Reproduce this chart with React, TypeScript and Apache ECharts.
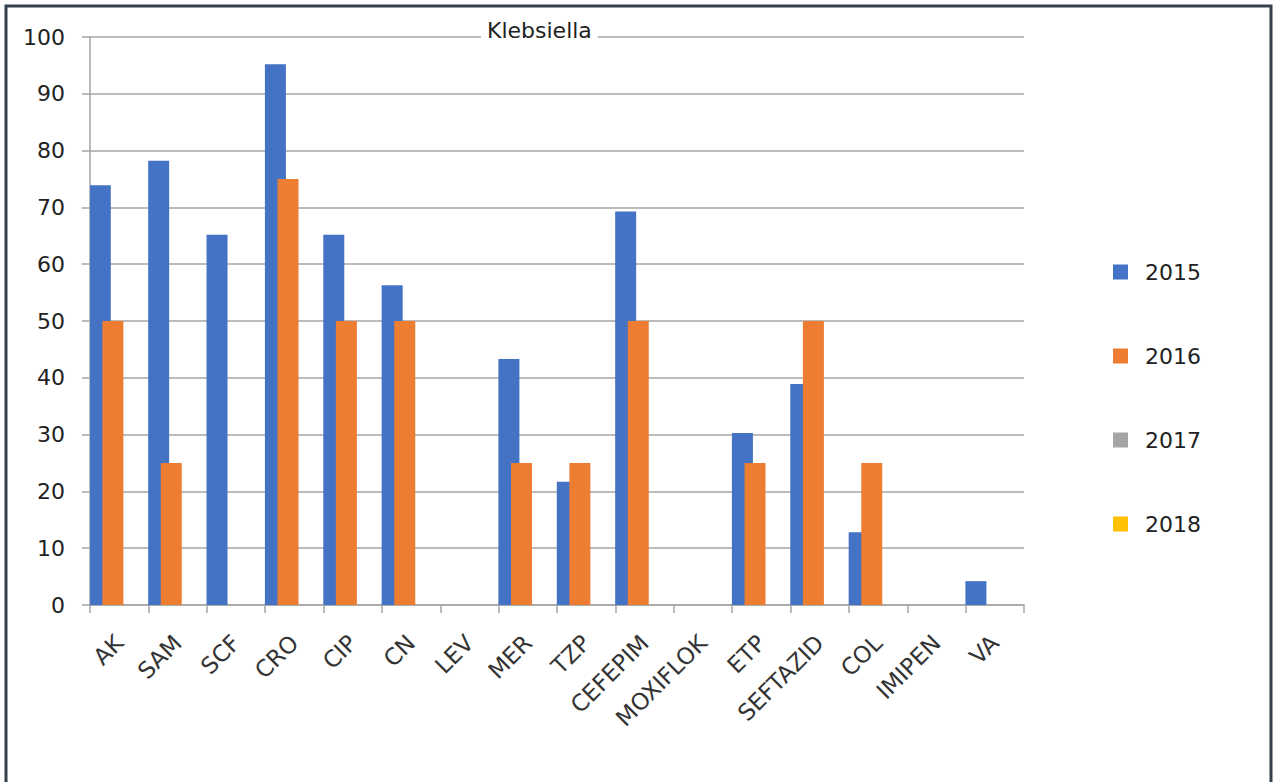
import React, { useEffect, useRef } from "react";
import * as echarts from "echarts";

const categories = ["AK", "SAM", "SCF", "CRO", "CIP", "CN", "LEV", "MER", "TZP", "CEFEPIM", "MOXIFLOK", "ETP", "SEFTAZID", "COL", "IMIPEN", "VA"];
const series2015 = [73.9, 78.2, 65.2, 95.2, 65.2, 56.3, null, 43.3, 21.7, 69.3, null, 30.3, 38.9, 12.8, null, 4.2];
const series2016 = [50, 25, null, 75, 50, 50, null, 25, 25, 50, null, 25, 50, 25, null, null];
const series2017: (number | null)[] = [null, null, null, null, null, null, null, null, null, null, null, null, null, null, null, null];
const series2018: (number | null)[] = [null, null, null, null, null, null, null, null, null, null, null, null, null, null, null, null];
const seriesNames = ["2015", "2016", "2017", "2018"];
const colors = ["#4472C4", "#ED7D31", "#A5A5A5", "#FFC000"];
const yTicks = { min: 0, max: 100, interval: 10 };

const FONT = "DejaVu Sans";

export default function App() {
  const ref = useRef<HTMLDivElement>(null);
  useEffect(() => {
    if (!ref.current) return;
    const chart = echarts.init(ref.current, undefined, { renderer: "svg" });
    const data = [series2015, series2016, series2017, series2018];
    chart.setOption({
      animation: false,
      backgroundColor: "#ffffff",
      color: colors,
      title: {
        text: "Klebsiella",
        left: 481,
        top: 18,
        padding: [1, 6],
        backgroundColor: "#ffffff",
        textStyle: { fontFamily: FONT, fontSize: 22, fontWeight: "normal", color: "#222" },
      },
      legend: {
        orient: "vertical",
        left: 1108,
        top: 225,
        itemWidth: 15,
        itemHeight: 15,
        itemGap: 0,
        icon: "rect",
        data: seriesNames,
        textStyle: { fontFamily: FONT, fontSize: 22, color: "#222", lineHeight: 84, padding: [0, 0, 0, 12] },
      },
      grid: { left: 90, right: 255, top: 37, bottom: 177, containLabel: false },
      xAxis: {
        type: "category",
        data: categories,
        axisLine: { lineStyle: { color: "#a6a6a6", width: 1.5 } },
        axisTick: { show: true, length: 8, lineStyle: { color: "#a6a6a6", width: 1.5 } },
        axisLabel: { rotate: 45, fontFamily: FONT, fontSize: 23, color: "#333", margin: 34, interval: 0 },
      },
      yAxis: {
        type: "value",
        min: yTicks.min,
        max: yTicks.max,
        interval: yTicks.interval,
        axisLine: { show: true, lineStyle: { color: "#a6a6a6", width: 1.5 } },
        axisTick: { show: true, length: 8, lineStyle: { color: "#a6a6a6", width: 1.5 } },
        splitLine: { lineStyle: { color: "#a6a6a6", width: 1.5 } },
        axisLabel: { fontFamily: FONT, fontSize: 22, color: "#222", margin: 25 },
      },
      graphic: [
        {
          type: "rect",
          shape: { x: 6, y: 6, width: 1265, height: 800 },
          style: { fill: "none", stroke: "#36404f", lineWidth: 3 },
          silent: true,
          z: 100,
        },
      ],
      series: seriesNames.map((name, i) => ({
        name,
        type: "bar",
        data: data[i],
        barWidth: 21,
        barGap: "-40%",
        itemStyle: { color: colors[i] },
      })),
    });
    return () => chart.dispose();
  }, []);
  return <div ref={ref} style={{ position: "fixed", left: 0, top: 0, width: 1279, height: 782 }} />;
}
